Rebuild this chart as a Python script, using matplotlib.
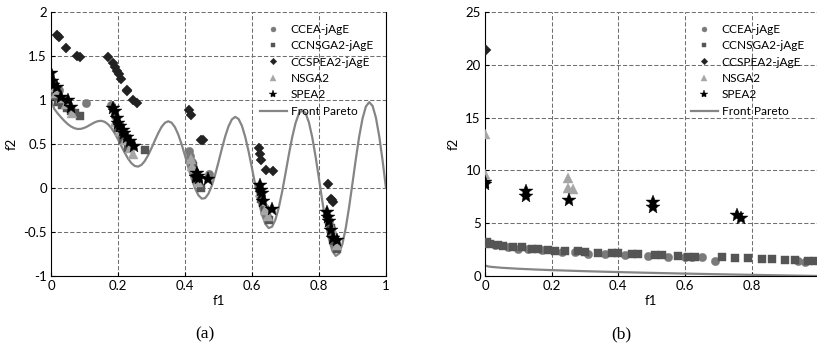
import matplotlib
matplotlib.use("Agg")
import matplotlib.pyplot as plt

plt.rcParams['font.family'] = ['Lato', 'DejaVu Sans']
plt.rcParams['font.size'] = 9.5

# ---------- panel (a) data ----------
front_a_x = [0.00, 0.01, 0.02, 0.03, 0.04, 0.05, 0.06, 0.07, 0.08, 0.09,
             0.10, 0.11, 0.12, 0.13, 0.14, 0.15, 0.16, 0.17, 0.18, 0.19,
             0.20, 0.21, 0.22, 0.23, 0.24, 0.25, 0.26, 0.27, 0.28, 0.29,
             0.30, 0.31, 0.32, 0.33, 0.34, 0.35, 0.36, 0.37, 0.38, 0.39,
             0.40, 0.41, 0.42, 0.43, 0.44, 0.45, 0.46, 0.47, 0.48, 0.49,
             0.50, 0.51, 0.52, 0.53, 0.54, 0.55, 0.56, 0.57, 0.58, 0.59,
             0.60, 0.61, 0.62, 0.63, 0.64, 0.65, 0.66, 0.67, 0.68, 0.69,
             0.70, 0.71, 0.72, 0.73, 0.74, 0.75, 0.76, 0.77, 0.78, 0.79,
             0.80, 0.81, 0.82, 0.83, 0.84, 0.85, 0.86, 0.87, 0.88, 0.89,
             0.90, 0.91, 0.92, 0.93, 0.94, 0.95, 0.96, 0.97, 0.98, 0.99, 1.00]
front_a_y = [1.000, 0.897, 0.847, 0.803, 0.762, 0.726, 0.698, 0.679, 0.670, 0.672,
             0.684, 0.702, 0.724, 0.745, 0.759, 0.763, 0.752, 0.725, 0.682, 0.623,
             0.553, 0.477, 0.402, 0.334, 0.282, 0.250, 0.243, 0.262, 0.306, 0.372,
             0.452, 0.539, 0.622, 0.693, 0.740, 0.758, 0.742, 0.691, 0.607, 0.496,
             0.368, 0.233, 0.105, -0.004, -0.082, -0.121, -0.116, -0.066, 0.025, 0.149,
             0.293, 0.444, 0.585, 0.701, 0.779, 0.808, 0.784, 0.706, 0.579, 0.414,
             0.225, 0.031, -0.152, -0.303, -0.409, -0.456, -0.440, -0.361, -0.224, -0.044,
             0.163, 0.377, 0.575, 0.736, 0.844, 0.884, 0.851, 0.745, 0.575, 0.355,
             0.106, -0.150, -0.388, -0.583, -0.715, -0.772, -0.745, -0.637, -0.455, -0.218,
             0.051, 0.327, 0.582, 0.788, 0.925, 0.975, 0.933, 0.800, 0.586, 0.311, 0.000]

ccea_a_x = [0.002, 0.01, 0.018, 0.025, 0.035, 0.045, 0.104, 0.178, 0.19, 0.2, 0.21,
            0.22, 0.23, 0.24, 0.413, 0.415, 0.42, 0.43, 0.44, 0.472, 0.622, 0.625,
            0.63, 0.635, 0.64, 0.645, 0.825, 0.83, 0.835, 0.84, 0.845, 0.85]
ccea_a_y = [1.21, 1.12, 1.10, 1.11, 1.00, 0.95, 0.96, 0.94, 0.82, 0.72, 0.62,
            0.55, 0.50, 0.47, 0.42, 0.36, 0.30, 0.15, 0.08, 0.16, 0.02, -0.08,
            -0.15, -0.22, -0.28, -0.32, -0.32, -0.38, -0.45, -0.52, -0.60, -0.66]

ccnsga2_a_x = [0.007, 0.02, 0.032, 0.047, 0.06, 0.072, 0.087, 0.2, 0.215, 0.231,
               0.281, 0.425, 0.435, 0.448, 0.628, 0.64, 0.652, 0.835, 0.845, 0.853]
ccnsga2_a_y = [1.04, 0.98, 0.94, 0.91, 0.88, 0.85, 0.82, 0.68, 0.55, 0.45,
               0.43, 0.25, 0.10, 0.00, -0.12, -0.25, -0.36, -0.45, -0.60, -0.69]

ccspea2_a_x = [0.017, 0.025, 0.044, 0.077, 0.087, 0.171, 0.184, 0.19, 0.197, 0.203,
               0.209, 0.226, 0.228, 0.245, 0.258, 0.413, 0.417, 0.448, 0.455, 0.62,
               0.624, 0.628, 0.641, 0.662, 0.826, 0.836, 0.84, 0.843]
ccspea2_a_y = [1.74, 1.72, 1.59, 1.50, 1.49, 1.49, 1.42, 1.38, 1.33, 1.29,
               1.24, 1.11, 1.10, 1.00, 0.97, 0.89, 0.83, 0.55, 0.54, 0.45,
               0.39, 0.32, 0.20, 0.19, 0.05, -0.12, -0.14, -0.16]

nsga2_a_x = [0.005, 0.015, 0.03, 0.045, 0.062, 0.19, 0.205, 0.22, 0.235, 0.246, 0.418,
             0.42, 0.43, 0.44, 0.625, 0.632, 0.64, 0.648, 0.83, 0.838, 0.845, 0.853]
nsga2_a_y = [1.15, 1.08, 1.02, 0.95, 0.85, 0.75, 0.65, 0.55, 0.45, 0.39, 0.33,
             0.25, 0.18, 0.07, -0.05, -0.15, -0.25, -0.32, -0.35, -0.45, -0.55, -0.65]

spea2_a_x = [0.0, 0.004, 0.007, 0.017, 0.03, 0.05, 0.06, 0.186, 0.19, 0.196, 0.201,
             0.206, 0.214, 0.218, 0.226, 0.236, 0.249, 0.433, 0.435, 0.44, 0.443,
             0.47, 0.624, 0.627, 0.631, 0.634, 0.659, 0.825, 0.828, 0.831, 0.835,
             0.843, 0.855]
spea2_a_y = [1.31, 1.22, 1.17, 1.15, 1.03, 1.00, 0.92, 0.91, 0.87, 0.79, 0.74,
             0.70, 0.66, 0.63, 0.58, 0.53, 0.48, 0.13, 0.17, 0.14, 0.11,
             0.10, 0.03, -0.02, -0.06, -0.15, -0.24, -0.27, -0.33, -0.38, -0.48,
             -0.57, -0.59]

# ---------- panel (b) data ----------
front_b_x = [0.0, 0.01, 0.02, 0.05, 0.1, 0.15, 0.2, 0.3, 0.4, 0.5, 0.6, 0.7, 0.8, 0.9, 1.0]
front_b_y = [1.0, 0.9, 0.859, 0.776, 0.684, 0.613, 0.553, 0.452, 0.368, 0.293,
             0.225, 0.163, 0.106, 0.051, 0.0]

ccea_b_x = [0.0, 0.03, 0.07, 0.1, 0.13, 0.17, 0.23, 0.27, 0.31, 0.36, 0.42, 0.49,
            0.55, 0.6, 0.62, 0.65, 0.69, 0.94, 0.96]
ccea_b_y = [3.1, 2.95, 2.7, 2.6, 2.6, 2.5, 2.3, 2.3, 2.1, 2.1, 2.0, 1.9,
            1.8, 1.8, 1.8, 1.75, 1.4, 1.45, 1.35]

ccnsga2_b_x = [0.005, 0.015, 0.04, 0.055, 0.085, 0.11, 0.14, 0.16, 0.19, 0.21, 0.24,
               0.28, 0.3, 0.34, 0.38, 0.4, 0.44, 0.46, 0.51, 0.53, 0.58, 0.61, 0.63,
               0.71, 0.75, 0.79, 0.83, 0.86, 0.9, 0.93, 0.97, 0.99]
ccnsga2_b_y = [3.2, 3.05, 2.95, 2.85, 2.75, 2.7, 2.6, 2.55, 2.5, 2.4, 2.4,
               2.35, 2.3, 2.2, 2.2, 2.15, 2.1, 2.05, 2.0, 2.0, 1.9, 1.8, 1.8,
               1.75, 1.7, 1.7, 1.65, 1.6, 1.55, 1.55, 1.45, 1.4]

ccspea2_b_x = [0.003]
ccspea2_b_y = [21.4]

nsga2_b_x = [0.0, 0.0, 0.25, 0.25, 0.265]
nsga2_b_y = [13.4, 9.7, 9.3, 8.3, 8.2]

spea2_b_x = [0.0, 0.0, 0.123, 0.123, 0.251, 0.503, 0.503, 0.755, 0.767]
spea2_b_y = [8.9, 8.7, 8.0, 7.6, 7.2, 7.0, 6.5, 5.8, 5.5]

labels = ["CCEA-jAgE", "CCNSGA2-jAgE", "CCSPEA2-jAgE", "NSGA2", "SPEA2", "Front Pareto"]

a_xticks = [0, 0.2, 0.4, 0.6, 0.8, 1]
a_xticklabels = ["0", "0.2", "0.4", "0.6", "0.8", "1"]
a_yticks = [-1, -0.5, 0, 0.5, 1, 1.5, 2]
a_yticklabels = ["-1", "-0.5", "0", "0.5", "1", "1.5", "2"]
b_xticks = [0, 0.2, 0.4, 0.6, 0.8]
b_xticklabels = ["0", "0.2", "0.4", "0.6", "0.8"]
b_yticks = [0, 5, 10, 15, 20, 25]
b_yticklabels = ["0", "5", "10", "15", "20", "25"]


def draw(ax, data, front):
    styles = [
        dict(marker="o", color="#7a7a7a", ms=6),
        dict(marker="s", color="#555555", ms=5.5),
        dict(marker="D", color="#222222", ms=5.5),
        dict(marker="^", color="#a6a6a6", ms=6.5),
        dict(marker="*", color="#000000", ms=10),
    ]
    handles = []
    for (xs, ys), st, lab in zip(data, styles, labels):
        h, = ax.plot(xs, ys, linestyle="none", marker=st["marker"], color=st["color"],
                     markersize=st["ms"], markeredgewidth=0.3, label=lab, zorder=3)
        handles.append(h)
    h, = ax.plot(front[0], front[1], color="#858585", lw=1.6, label=labels[5], zorder=2)
    handles.append(h)
    ax.grid(True, linestyle=(0, (4, 2)), color="#707070", lw=0.75)
    ax.set_axisbelow(True)
    ax.spines["top"].set_visible(False)
    ax.tick_params(direction="in", length=3, width=0.8, pad=3)
    leg = ax.legend(handles=handles, loc="upper right", frameon=False, fontsize=8.6,
                    handlelength=2.2, handletextpad=0.35, labelspacing=0.45,
                    borderaxespad=0.6, markerscale=0.6)
    leg.set_zorder(5)
    ax.set_xlabel("f1", labelpad=2)
    ax.set_ylabel("f2", labelpad=4)


fig = plt.figure(figsize=(8.17, 3.52), dpi=100)

ax1 = fig.add_axes([0.0624, 0.216, 0.41, 0.75])
draw(ax1, [(ccea_a_x, ccea_a_y), (ccnsga2_a_x, ccnsga2_a_y), (ccspea2_a_x, ccspea2_a_y),
           (nsga2_a_x, nsga2_a_y), (spea2_a_x, spea2_a_y)], (front_a_x, front_a_y))
ax1.set_xlim(0, 1)
ax1.set_ylim(-1, 2)
ax1.set_xticks(a_xticks, a_xticklabels)
ax1.set_yticks(a_yticks, a_yticklabels)

ax2 = fig.add_axes([0.5936, 0.216, 0.4064, 0.75])
draw(ax2, [(ccea_b_x, ccea_b_y), (ccnsga2_b_x, ccnsga2_b_y), (ccspea2_b_x, ccspea2_b_y),
           (nsga2_b_x, nsga2_b_y), (spea2_b_x, spea2_b_y)], (front_b_x, front_b_y))
ax2.spines["right"].set_visible(False)
ax2.set_xlim(0, 0.996)
ax2.set_ylim(0, 25)
ax2.set_xticks(b_xticks, b_xticklabels)
ax2.set_yticks(b_yticks, b_yticklabels)

fig.text(0.251, 0.05, "(a)", ha="center", va="center", fontsize=12.5,
         family=["Liberation Serif"])
fig.text(0.761, 0.05, "(b)", ha="center", va="center", fontsize=12.5,
         family=["Liberation Serif"])

fig.savefig("out.png", dpi=100)
